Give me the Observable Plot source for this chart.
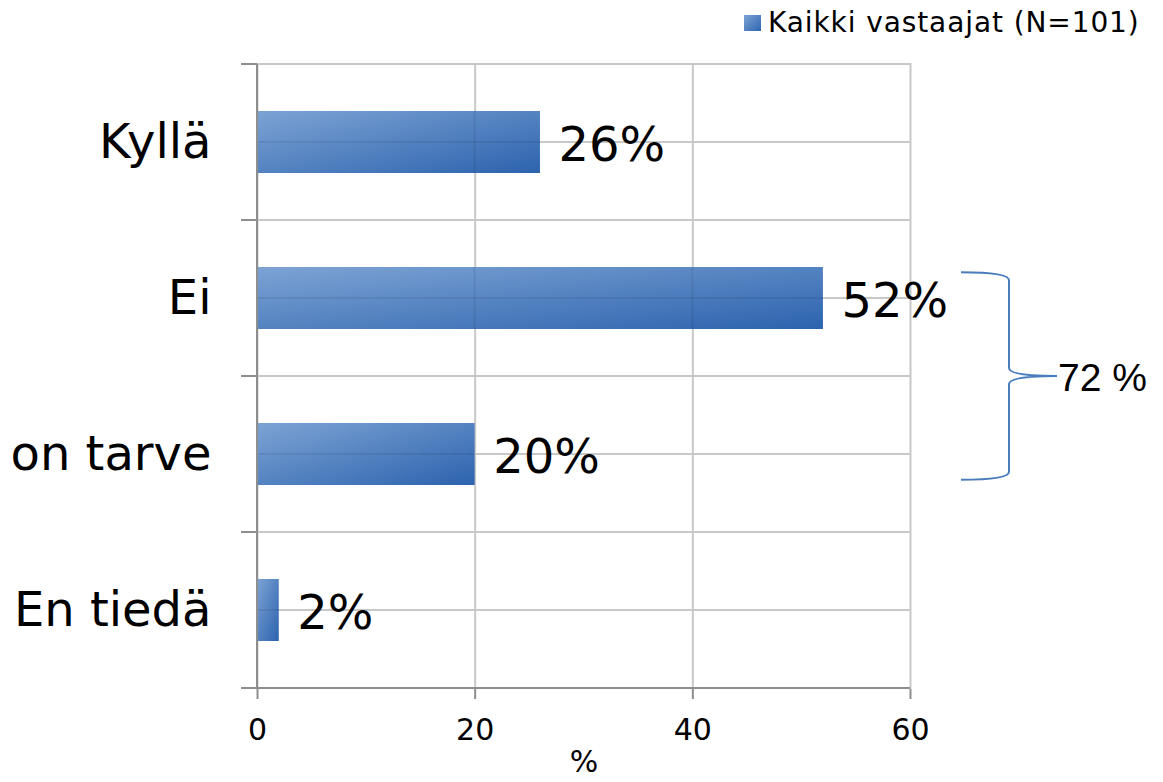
<!DOCTYPE html>
<html><head><meta charset="utf-8">
<script src="https://cdn.jsdelivr.net/npm/d3@7"></script>
<script src="https://cdn.jsdelivr.net/npm/@observablehq/plot@0.6"></script>
<style>
html,body{margin:0;padding:0;background:#fff;}
#wrap{position:relative;width:1163px;height:782px;overflow:hidden;}
#legend{position:absolute;left:744px;top:8px;display:flex;align-items:center;font-family:"DejaVu Sans";font-size:28px;letter-spacing:0.9px;line-height:30px;color:#000;white-space:nowrap;z-index:2;}
#legend .sw{display:inline-block;width:17px;height:16px;background:linear-gradient(135deg,#7da3d4,#2e65b0);margin-right:7px;}
#chart{position:absolute;left:0;top:0;}
</style></head><body>
<div id="wrap"><div id="legend"><span class="sw"></span><span id="legtext"></span></div><div id="chart"></div></div>
<script>
// ---- data ----
const categories = ["Kyllä", "Ei", "on tarve", "En tiedä"];
const values = [26, 52, 20, 2];
const xTicks = [0, 20, 40, 60];
const seriesName = "Kaikki vastaajat (N=101)";
const xLabel = "%";
const bracketCats = ["Ei", "on tarve"];

const data = categories.map((cat, i) => ({cat, value: values[i]}));
document.getElementById("legtext").textContent = seriesName;

const gridColor = "#c8c8c8";
const axisColor = "#8e8e8e";
const barInset = 47;

function defs() {
  const d = d3.create("svg:defs");
  const g = d.append("linearGradient").attr("id", "barGrad")
    .attr("x1", 0).attr("y1", 0).attr("x2", 1).attr("y2", 1);
  g.append("stop").attr("offset", "0%").attr("stop-color", "#7da3d4");
  g.append("stop").attr("offset", "100%").attr("stop-color", "#2c63ae");
  return d.node();
}

function bandGrid(index, scales) {
  const {x, y} = scales;
  const bw = y.bandwidth();
  const xl = x(xTicks[0]), xr = x(xTicks[xTicks.length - 1]);
  const g = d3.create("svg:g").attr("fill", "none").attr("stroke", gridColor).attr("stroke-width", 2);
  for (const c of categories) {
    for (const yy of [y(c), y(c) + bw / 2]) {
      g.append("line").attr("x1", xl).attr("x2", xr).attr("y1", yy).attr("y2", yy);
    }
  }
  return g.node();
}

// faint grid lines seen through the bars
function gridThroughBars(index, scales) {
  const {x, y} = scales;
  const bw = y.bandwidth();
  const g = d3.create("svg:g").attr("fill", "none").attr("stroke", "#000")
    .attr("stroke-opacity", 0.07).attr("stroke-width", 2);
  for (const d of data) {
    const yc = y(d.cat) + bw / 2;
    g.append("line").attr("x1", x(0)).attr("x2", x(d.value)).attr("y1", yc).attr("y2", yc);
    for (const t of xTicks) {
      if (t > 0 && t < d.value) {
        g.append("line").attr("x1", x(t)).attr("x2", x(t))
          .attr("y1", y(d.cat) + barInset).attr("y2", y(d.cat) + bw - barInset);
      }
    }
  }
  return g.node();
}

function axisLines(index, scales) {
  const {x, y} = scales;
  const bw = y.bandwidth();
  const xl = x(xTicks[0]), xr = x(xTicks[xTicks.length - 1]);
  const yTop = y(categories[0]);
  const yBot = y(categories[categories.length - 1]) + bw;
  const g = d3.create("svg:g").attr("fill", "none").attr("stroke", axisColor).attr("stroke-width", 2);
  g.append("line").attr("x1", xl).attr("x2", xl).attr("y1", yTop).attr("y2", yBot);
  g.append("line").attr("x1", xl - 16).attr("x2", xr).attr("y1", yBot).attr("y2", yBot);
  for (const c of categories) {
    g.append("line").attr("x1", xl - 16).attr("x2", xl).attr("y1", y(c)).attr("y2", y(c));
  }
  return g.node();
}

function bracket(index, scales) {
  const {x, y} = scales;
  const bw = y.bandwidth();
  const [cA, cB] = bracketCats;
  const yTop = y(cA) + bw * 0.335;
  const yBot = y(cB) + bw * 0.665;
  const yMid = y(cB);
  const xEnd = x(xTicks[xTicks.length - 1]);
  const xa = xEnd + 51, xb = xEnd + 99, xc = xEnd + 147;
  const r = 8;
  const g = d3.create("svg:g");
  g.append("path")
    .attr("d", `M${xa},${yTop} Q${xb},${yTop} ${xb},${yTop + r} L${xb},${yMid - r} Q${xb},${yMid} ${xc},${yMid} Q${xb},${yMid} ${xb},${yMid + r} L${xb},${yBot - r} Q${xb},${yBot} ${xa},${yBot}`)
    .attr("fill", "none").attr("stroke", "#4a7ebb").attr("stroke-width", 2);
  const total = bracketCats.reduce((s, c) => s + values[categories.indexOf(c)], 0);
  g.append("text").attr("x", xc + 1).attr("y", yMid + 15)
    .attr("text-anchor", "start")
    .attr("font-family", "Liberation Sans").attr("font-size", 39).attr("fill", "#000")
    .text(`${total} %`);
  return g.node();
}

const chart = Plot.plot({
  width: 1163,
  height: 782,
  marginLeft: 257,
  marginRight: 253,
  marginTop: 63,
  marginBottom: 93,
  style: {fontFamily: "DejaVu Sans", background: "transparent", color: "#000", overflow: "visible"},
  x: {domain: [0, 60]},
  y: {domain: categories, padding: 0},
  marks: [
    defs,
    bandGrid,
    Plot.gridX(xTicks, {stroke: gridColor, strokeOpacity: 1, strokeWidth: 2}),
    Plot.barX(data, {x: "value", y: "cat", fill: "url(#barGrad)", insetTop: barInset, insetBottom: barInset}),
    gridThroughBars,
    axisLines,
    Plot.axisX(xTicks, {tickSize: 10, tickPadding: 19, fontSize: 30, stroke: axisColor, strokeWidth: 2, fill: "#000", label: null}),
    Plot.text([xLabel], {text: d => d, frameAnchor: "bottom", dy: 82, fontSize: 30, fill: "#000"}),
    Plot.axisY(categories, {tickSize: 0, tickPadding: 46, fontSize: 48, fill: "#000", label: null}),
    Plot.text(data, {x: "value", y: "cat", text: d => `${d.value}%`, dx: 18, dy: 3, textAnchor: "start", fontSize: 48, fill: "#000"}),
    bracket
  ]
});
document.getElementById("chart").appendChild(chart);
</script>
</body></html>
